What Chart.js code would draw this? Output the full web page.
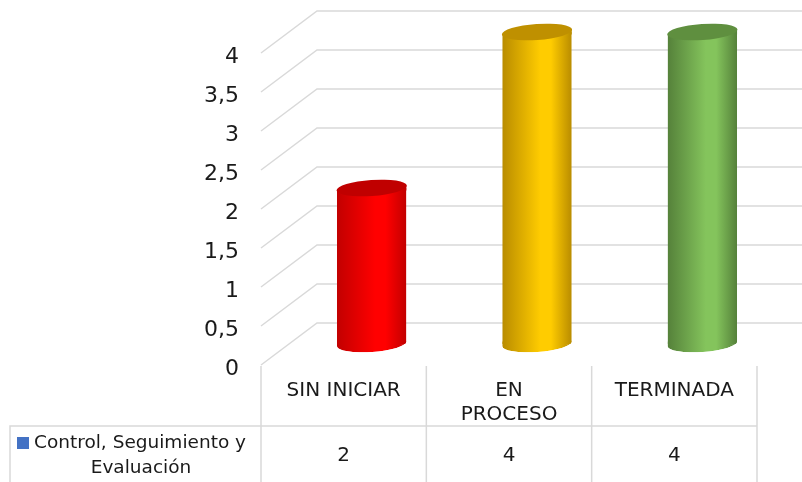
<!DOCTYPE html>
<html>
<head>
<meta charset="utf-8">
<script src="https://cdn.jsdelivr.net/npm/chart.js@4"></script>
<style>
  html, body { margin: 0; padding: 0; background: #fff; }
  canvas { display: block; }
</style>
</head>
<body>
<canvas id="chart" width="802" height="482"></canvas>
<script>
const categories = [['SIN INICIAR'], ['EN', 'PROCESO'], ['TERMINADA']];
const seriesName = ['Control, Seguimiento y', 'Evaluación'];
const values = [2, 4, 4];
const edgeColors = ['#c20000', '#b98c00', '#55813a'];
const midColors = ['#ff0000', '#ffcc00', '#84c45c'];
const capColors = ['#c00000', '#bf9000', '#5f8f3f'];

const font = '"DejaVu Sans", sans-serif';
const textColor = '#1a1a1a';
const gridColor = '#d9d9d9';
const depthX = 56, depthY = 42;
const tilt = 2.4;

function barFill(c) {
  const x = c.chart.scales.x;
  const mid = x ? x.getPixelForValue(c.dataIndex) : NaN;
  if (!Number.isFinite(mid) || !x.width) return midColors[c.dataIndex];
  const half = x.width / categories.length * 0.42 / 2;
  const g = c.chart.ctx.createLinearGradient(mid - half, 0, mid + half, 0);
  g.addColorStop(0, edgeColors[c.dataIndex]);
  g.addColorStop(0.55, midColors[c.dataIndex]);
  g.addColorStop(0.7, midColors[c.dataIndex]);
  g.addColorStop(1, edgeColors[c.dataIndex]);
  return g;
}

function discPath(ctx, x, y, w) {
  ctx.ellipse(x, y, w / 2, 8, -4 * Math.PI / 180, 0, Math.PI * 2);
}

// walls behind the bars, table under them, bars pushed half way into the depth
const look3d = {
  id: 'look3d',
  beforeDatasetsDraw(chart) {
    const { ctx, scales: { x, y }, chartArea } = chart;
    ctx.save();
    ctx.strokeStyle = gridColor;
    ctx.lineWidth = 1.5;
    y.ticks.forEach(t => {
      const py = y.getPixelForValue(t.value);
      ctx.beginPath();
      ctx.moveTo(chartArea.left, py);
      ctx.lineTo(chartArea.left + depthX, py - depthY);
      ctx.lineTo(chart.width, py - depthY);
      ctx.stroke();
    });
    const bottom = chart.height;
    const rowY = 426;
    ctx.beginPath();
    ctx.moveTo(10, bottom);
    ctx.lineTo(10, rowY);
    ctx.lineTo(chartArea.right, rowY);
    const step = chartArea.width / categories.length;
    for (let i = 0; i <= categories.length; i++) {
      const px = chartArea.left + i * step;
      ctx.moveTo(px, chartArea.bottom + 1);
      ctx.lineTo(px, bottom);
    }
    ctx.stroke();

    ctx.fillStyle = '#4472c4';
    ctx.fillRect(17, 437, 12, 12);
    ctx.fillStyle = textColor;
    ctx.font = '18.5px ' + font;
    ctx.textBaseline = 'middle';
    ctx.textAlign = 'left';
    ctx.fillText(seriesName[0], 34, 443);
    ctx.textAlign = 'center';
    ctx.fillText(seriesName[1], 141, 468);
    ctx.font = '20px ' + font;
    values.forEach((v, i) => ctx.fillText(String(v), x.getPixelForValue(i), 456));
    ctx.restore();

    ctx.save();
    ctx.translate(depthX / 2, -depthY / 2);
    ctx.save();
    const meta = chart.getDatasetMeta(0);
    // clip so the square bar ends follow the round, tilted discs
    ctx.beginPath();
    meta.data.forEach(bar => {
      const l = bar.x - bar.width / 2, r = bar.x + bar.width / 2;
      ctx.moveTo(l, bar.y + tilt);
      ctx.lineTo(r, bar.y - tilt);
      ctx.lineTo(r, bar.base - tilt);
      ctx.lineTo(l, bar.base + tilt);
      ctx.closePath();
      ctx.moveTo(r, bar.base);
      discPath(ctx, bar.x, bar.base, bar.width);
    });
    ctx.clip();
    meta.data.forEach((bar, i) => {
      const l = bar.x - bar.width / 2, r = bar.x + bar.width / 2;
      ctx.fillStyle = barFill({ chart, dataIndex: i });
      ctx.beginPath();
      ctx.moveTo(l, bar.base - tilt);
      ctx.lineTo(r, bar.base - tilt);
      ctx.lineTo(r, bar.base);
      ctx.lineTo(l, bar.base + tilt);
      ctx.closePath();
      ctx.moveTo(r, bar.base);
      discPath(ctx, bar.x, bar.base, bar.width);
      ctx.fill();
    });
  },
  afterDatasetsDraw(chart) {
    const { ctx } = chart;
    ctx.restore();
    chart.getDatasetMeta(0).data.forEach((bar, i) => {
      const l = bar.x - bar.width / 2, r = bar.x + bar.width / 2;
      ctx.fillStyle = barFill({ chart, dataIndex: i });
      ctx.beginPath();
      ctx.moveTo(l, bar.y + tilt);
      ctx.lineTo(r, bar.y - tilt);
      ctx.lineTo(r, bar.y + tilt);
      ctx.closePath();
      ctx.fill();
      ctx.fillStyle = capColors[i];
      ctx.beginPath();
      discPath(ctx, bar.x, bar.y, bar.width + 1);
      ctx.fill();
    });
    ctx.restore();
  }
};

new Chart(document.getElementById('chart'), {
  type: 'bar',
  data: {
    labels: categories,
    datasets: [{
      label: seriesName.join(' '),
      data: values,
      backgroundColor: barFill,
      borderWidth: 0,
      categoryPercentage: 1,
      barPercentage: 0.42
    }]
  },
  options: {
    responsive: false,
    animation: false,
    layout: { padding: { top: 53, right: 45, left: 0, bottom: 0 } },
    plugins: { legend: { display: false }, tooltip: { enabled: false } },
    scales: {
      x: {
        grid: { display: false },
        border: { display: false },
        afterFit(s) { s.height = 117; },
        ticks: {
          color: textColor,
          font: { family: font, size: 20 },
          padding: 6,
          maxRotation: 0,
          minRotation: 0
        }
      },
      y: {
        min: 0,
        max: 4,
        grid: { display: false },
        border: { display: false },
        afterFit(s) { s.width = 261; },
        ticks: {
          stepSize: 0.5,
          color: textColor,
          // blank first line with a small line height nudges the numbers down
          font: { family: font, size: 22, lineHeight: '8px' },
          padding: 14,
          callback: v => ['', String(v).replace('.', ',')]
        }
      }
    }
  },
  plugins: [look3d]
});
</script>
</body>
</html>
